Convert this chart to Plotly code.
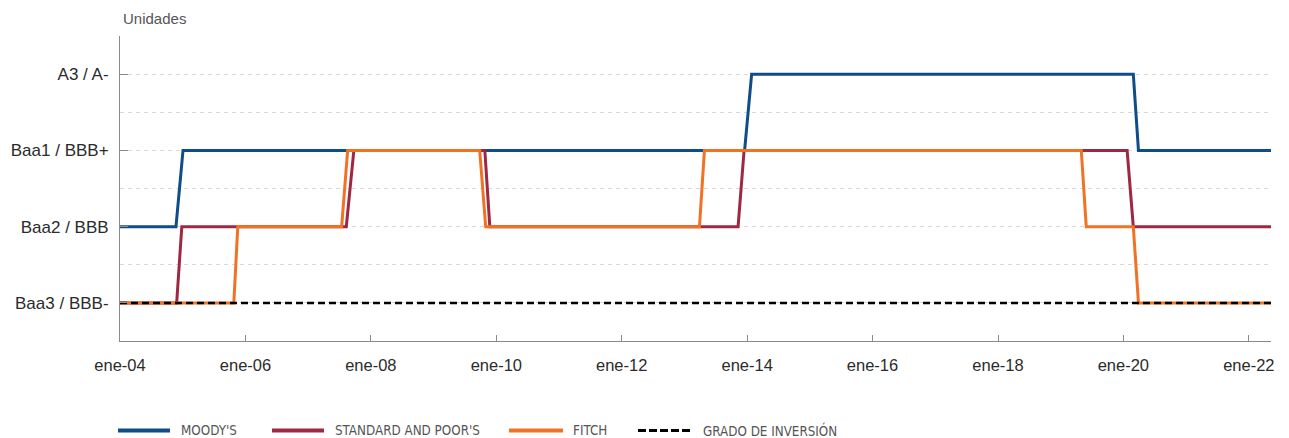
import plotly.graph_objects as go

# ---------------- data ----------------
moodys_dates = ["2004-01-01", "2004-11-22", "2005-01-02", "2013-12-17", "2014-01-27",
                "2020-02-28", "2020-03-29", "2022-05-10"]
moodys_vals = [2, 2, 3, 3, 4, 4, 3, 3]

sp_dates = ["2004-01-01", "2004-11-26", "2004-12-26", "2007-08-11", "2007-09-24",
            "2009-10-26", "2009-11-24", "2013-11-09", "2013-12-14", "2020-01-23",
            "2020-02-28", "2022-05-10"]
sp_vals = [1, 1, 2, 2, 3, 3, 2, 2, 3, 3, 2, 2]

fitch_dates = ["2004-01-01", "2005-10-25", "2005-11-17", "2007-07-15", "2007-08-19",
               "2009-09-26", "2009-10-31", "2013-03-29", "2013-04-27", "2019-05-01",
               "2019-05-30", "2020-02-28", "2020-03-29", "2022-05-10"]
fitch_vals = [1, 1, 2, 2, 3, 3, 2, 2, 3, 3, 2, 2, 1, 1]

grade_dates = ["2004-01-01", "2022-05-10"]
grade_vals = [1, 1]

y_tickvals = [1, 2, 3, 4]
y_ticktext = ["Baa3 / BBB-", "Baa2 / BBB", "Baa1 / BBB+", "A3 / A-"]

x_tickvals = ["2004-01-01", "2006-01-01", "2008-01-01", "2010-01-01", "2012-01-01",
              "2014-01-01", "2016-01-01", "2018-01-01", "2020-01-01", "2022-01-01"]
x_ticktext = ["ene-04", "ene-06", "ene-08", "ene-10", "ene-12",
              "ene-14", "ene-16", "ene-18", "ene-20", "ene-22"]

series_names = ["MOODY'S", "STANDARD AND POOR'S", "FITCH", "GRADO DE INVERSIÓN"]
# --------------------------------------

C_MOODY = "#0f4c8a"
C_SP = "#9e2843"
C_FITCH = "#f07325"
C_GRADE = "#000000"

fig = go.Figure()
fig.add_trace(go.Scatter(x=moodys_dates, y=moodys_vals, mode="lines", name=series_names[0],
                         line=dict(color=C_MOODY, width=3), showlegend=False))
fig.add_trace(go.Scatter(x=sp_dates, y=sp_vals, mode="lines", name=series_names[1],
                         line=dict(color=C_SP, width=3), showlegend=False))
fig.add_trace(go.Scatter(x=fitch_dates, y=fitch_vals, mode="lines", name=series_names[2],
                         line=dict(color=C_FITCH, width=3), showlegend=False))
fig.add_trace(go.Scatter(x=grade_dates, y=grade_vals, mode="lines", name=series_names[3],
                         line=dict(color=C_GRADE, width=2.5, dash="7px,4px"), showlegend=False))

W, H = 1289, 438
ML, MR, MT, MB = 120, 18, 36, 97
pw = W - ML - MR
ph = H - MT - MB


def px(x):
    return (x - ML) / pw


def py(y):
    return (H - MB - y) / ph


shapes = []
annotations = []
legend_items = [
    (series_names[0], C_MOODY, 118, 170, 179, "solid"),
    (series_names[1], C_SP, 272, 324, 333, "solid"),
    (series_names[2], C_FITCH, 509, 563, 571, "solid"),
    (series_names[3], C_GRADE, 638, 691, 701, "8px,3px"),
]
ly = 430.5
for name, col, x0, x1, tx, dash in legend_items:
    shapes.append(dict(type="line", xref="paper", yref="paper",
                       x0=px(x0), x1=px(x1), y0=py(ly), y1=py(ly),
                       line=dict(color=col, width=4 if dash == "solid" else 3, dash=dash)))
    annotations.append(dict(xref="paper", yref="paper", x=px(tx), y=py(ly + 0.5),
                            xanchor="left", yanchor="middle", text=name, showarrow=False,
                            font=dict(family="Liberation Sans Narrow, DejaVu Sans Condensed, Arial Narrow, sans-serif",
                                      size=13.3, color="#555555")))

annotations.append(dict(xref="paper", yref="paper", x=px(121), y=py(18), xanchor="left",
                        yanchor="middle", text="Unidades", showarrow=False,
                        font=dict(family="Liberation Sans, Arial, sans-serif", size=15, color="#555555")))

fig.update_layout(
    width=W, height=H,
    margin=dict(l=ML, r=MR, t=MT, b=MB),
    plot_bgcolor="white", paper_bgcolor="white",
    font=dict(family="Liberation Sans, Arial, sans-serif", size=16, color="#333333"),
    shapes=shapes,
    annotations=annotations,
    showlegend=False,
)

fig.update_xaxes(
    type="date",
    range=["2004-01-01", "2022-05-10"],
    tickvals=x_tickvals, ticktext=x_ticktext,
    showgrid=False, zeroline=False,
    showline=True, linecolor="#8a8a8a", linewidth=1,
    ticks="inside", ticklen=6, tickcolor="#8a8a8a",
    tickfont=dict(size=16.5, color="#2b2b2b"),
    ticklabelstandoff=9,
)

fig.update_yaxes(
    range=[0.5, 4.5],
    tickvals=y_tickvals, ticktext=y_ticktext,
    showgrid=True, gridcolor="#d9d9d9", griddash="4px,4px", gridwidth=1,
    zeroline=False,
    showline=True, linecolor="#8a8a8a", linewidth=1,
    ticks="inside", ticklen=8, tickcolor="#8a8a8a",
    tickfont=dict(size=17, color="#2b2b2b"),
    ticklabelstandoff=7,
    minor=dict(tickvals=[1.5, 2.5, 3.5, 4.5], showgrid=True, gridcolor="#d9d9d9",
               griddash="4px,4px", gridwidth=1, ticklen=0),
)

fig.write_html("out.html",
               config={"displayModeBar": False},
               post_script="document.body.style.margin='0';document.body.style.padding='0';")
